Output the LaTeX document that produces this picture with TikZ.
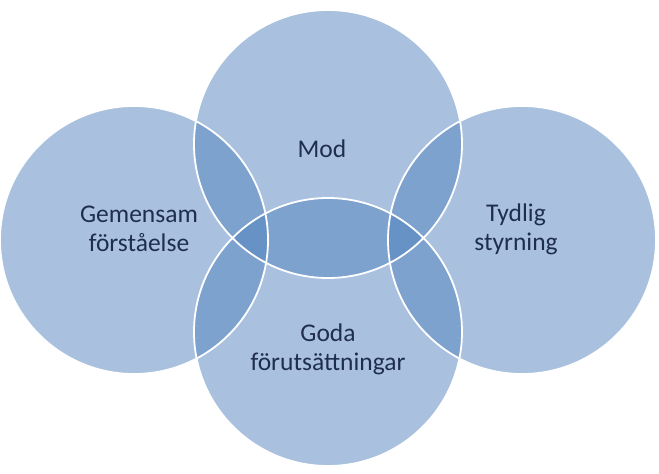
\documentclass[tikz,border=0pt]{standalone}
\usepackage{fontspec}
\setmainfont{Carlito}
\definecolor{cfill}{RGB}{79,129,189}
\definecolor{ctext}{RGB}{31,45,80}
\begin{document}
\begin{tikzpicture}[x=1pt,y=-1pt,
  circ/.style={circle,minimum size=268pt,inner sep=0pt,fill=cfill,fill opacity=0.49,draw=none},
  ring/.style={draw=white,line width=1.8pt},
  lab/.style={text=ctext,font=\fontsize{25.5}{29}\selectfont,align=center}]
\useasboundingbox (0,0) rectangle (659,474);
\node[circ] (L) at (134,240) {};
\node[circ] (T) at (328,144) {};
\node[circ] (R) at (522,240) {};
\node[circ] (B) at (328,332) {};
\foreach \n in {L,T,R,B}{\draw[ring] (\n) circle (134pt);}
\node[lab] (tl) at (139,229) {Gemensam\\förståelse};
\node[lab] (tt) at (322,149) {Mod};
\node[lab] (tr) at (516,229) {Tydlig\\styrning};
\node[lab] (tb) at (328,349) {Goda\\förutsättningar};
\end{tikzpicture}
\end{document}
